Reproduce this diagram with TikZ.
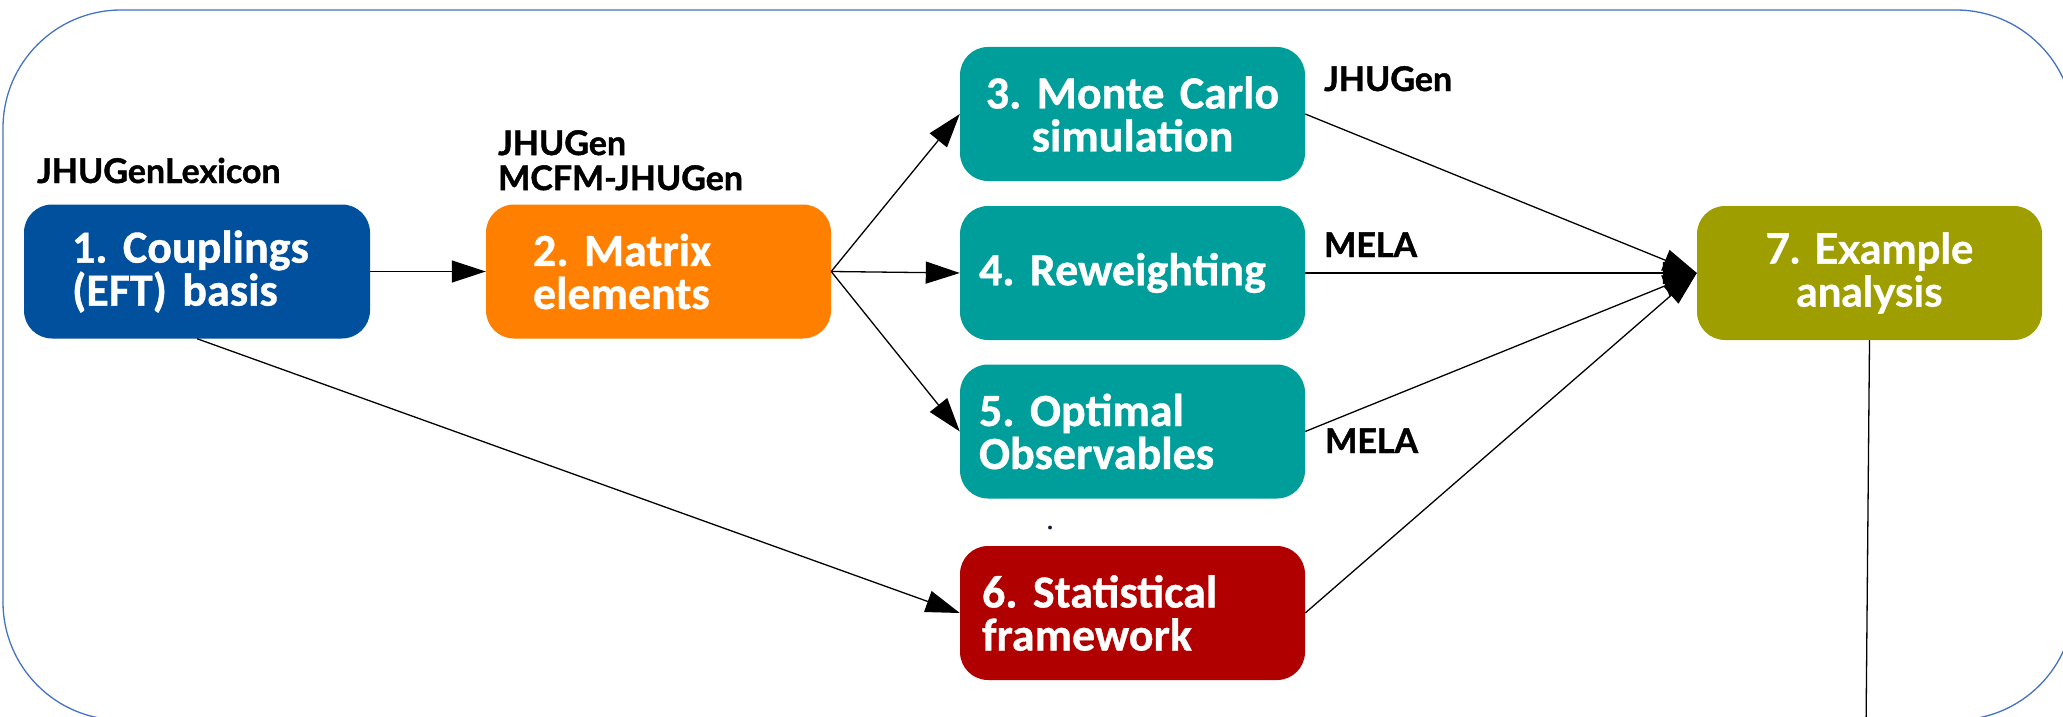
\documentclass[tikz,border=0pt]{standalone}
\usepackage{fontspec}
\setmainfont{Lato}[BoldFeatures={FakeBold=1.2}]
\newfontfamily\boxfont{Carlito}[BoldFeatures={FakeBold=0.8}]
\newfontfamily\sevenfont{Lato}[BoldFeatures={FakeBold=0.8}]
\usetikzlibrary{arrows.meta}
\definecolor{cblue}{RGB}{0,80,158}
\definecolor{corange}{RGB}{255,128,0}
\definecolor{cteal}{RGB}{0,158,154}
\definecolor{cred}{RGB}{176,0,0}
\definecolor{colive}{RGB}{158,158,0}
\definecolor{cframe}{RGB}{68,114,196}
\definecolor{cdot}{RGB}{20,20,60}
\frenchspacing
\begin{document}
\begin{tikzpicture}[x=1pt,y=-1pt,
  box/.style={rounded corners=28pt, minimum height=134pt, minimum width=345pt,
    text=white, font=\boxfont\bfseries\fontsize{46}{43}\selectfont, inner ysep=0pt},
  lbl/.style={font=\bfseries\fontsize{34}{35}\selectfont, inner sep=0pt, text=black},
  conn/.style={draw=black, line width=1.3pt, -{Triangle[length=34pt,width=22pt]}},
  plain/.style={draw=black, line width=1.3pt},
  frame/.style={draw=cframe, line width=1.3pt, rounded corners=118pt}
]
\useasboundingbox (0,0) rectangle (2063,717);
\clip (0,0) rectangle (2063,717);
\draw[frame] (3,10) rectangle (2074,720);

\node[box, fill=cblue, text width=250pt, inner xsep=48pt, align=left] (b1) at (197,271.5) {1. Couplings\\(EFT) basis};
\node[box, fill=corange, text width=251pt, inner xsep=47pt, align=left] (b2) at (658.5,271.5) {2. Matrix\\elements};
\node[box, fill=cteal, text width=305pt, inner xsep=20pt, align=center] (b3) at (1132.5,114) {3. Monte Carlo\\simulation};
\node[box, fill=cteal, text width=307pt, inner xsep=19pt, align=left] (b4) at (1132.5,273) {4. Reweighting};
\node[box, fill=cteal, text width=307pt, inner xsep=19pt, align=left] (b5) at (1132.5,431.5) {5. Optimal\\Observables};
\node[box, fill=cred, text width=301pt, inner xsep=22pt, align=left] (b6) at (1132.5,613) {6. Statistical\\framework};
\node[box, fill=colive, text width=305pt, inner xsep=20pt, align=center, font=\sevenfont\bfseries\fontsize{42}{43}\selectfont] (b7) at (1869.5,273) {7. Example\\analysis};

\node[lbl, anchor=base west] (l1) at (37,183) {JHUGenLexicon};
\node[lbl, anchor=north west, align=left] (l2) at (498,130) {JHUGen\\MCFM-JHUGen};
\node[lbl, anchor=base west] (l3) at (1324,91) {JHUGen};
\node[lbl, anchor=base west] (l4) at (1324,257) {MELA};
\node[lbl, anchor=base west] (l5) at (1325,453) {MELA};
\node[anchor=base, inner sep=0pt, text=cdot, font=\bfseries\fontsize{22}{24}\selectfont] (dot) at (1050,529) {.};

\coordinate (bottom) at (1866,730);

\draw[conn] (b1.east) -- (b2.west);
\draw[conn] (b2.east) -- (b3.west);
\draw[conn] (b2.east) -- (b4.west);
\draw[conn] (b2.east) -- (b5.west);
\draw[conn] (b1.south) -- (b6.west);
\draw[conn] (b3.east) -- (b7.west);
\draw[conn] (b4.east) -- (b7.west);
\draw[conn] (b5.east) -- (b7.west);
\draw[conn] (b6.east) -- (b7.west);
\draw[plain] (b7.south) -- (bottom);
\end{tikzpicture}
\end{document}
